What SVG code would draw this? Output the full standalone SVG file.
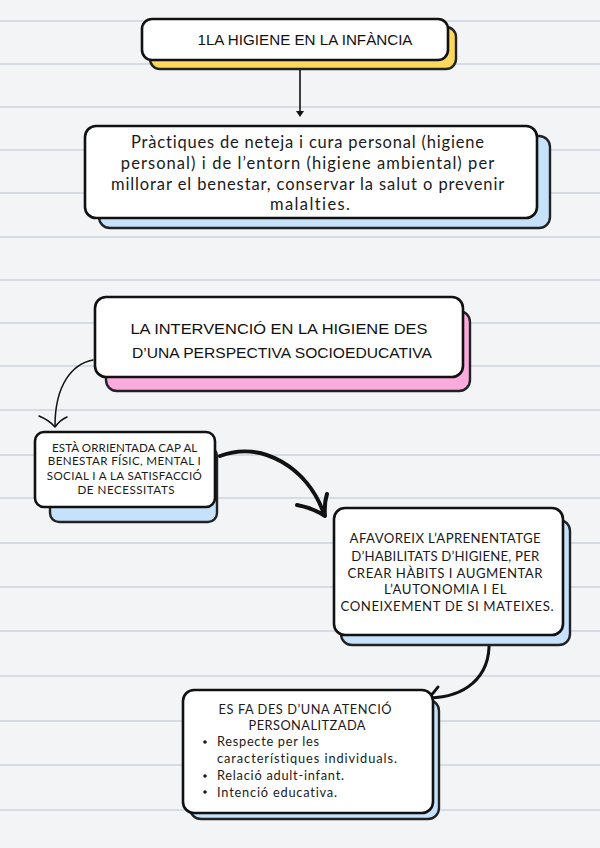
<svg xmlns="http://www.w3.org/2000/svg" width="600" height="848" viewBox="0 0 600 848">
<style>
.bg{fill:#f2f4f6}
.rule{stroke:#cbd5e1;stroke-width:1.5}
.card{fill:#ffffff;stroke:#111;stroke-width:2.6}
.sh{stroke:#222;stroke-width:2.4}
.yel{fill:#fdd85d}
.blu{fill:#c6e1fa}
.pnk{fill:#fbaadd}
.hand{font-family:"Liberation Sans",Arial,sans-serif;fill:#111;text-anchor:middle}
.body{font-family:Lato,"Noto Sans",sans-serif;fill:#1a1a1a;text-anchor:middle;font-variant-ligatures:none}
.lst{font-family:Lato,"Noto Sans",sans-serif;fill:#1a1a1a;font-variant-ligatures:none}
.conn{fill:none;stroke:#111;stroke-linecap:round;stroke-linejoin:round}
</style>
<rect class="bg" x="0" y="0" width="600" height="848"/>
<g id="rules">
<line class="rule" x1="0" y1="21" x2="600" y2="21"/>
<line class="rule" x1="0" y1="64" x2="600" y2="64"/>
<line class="rule" x1="0" y1="107" x2="600" y2="107"/>
<line class="rule" x1="0" y1="150" x2="600" y2="150"/>
<line class="rule" x1="0" y1="193" x2="600" y2="193"/>
<line class="rule" x1="0" y1="237" x2="600" y2="237"/>
<line class="rule" x1="0" y1="280" x2="600" y2="280"/>
<line class="rule" x1="0" y1="323" x2="600" y2="323"/>
<line class="rule" x1="0" y1="366" x2="600" y2="366"/>
<line class="rule" x1="0" y1="410" x2="600" y2="410"/>
<line class="rule" x1="0" y1="455" x2="600" y2="455"/>
<line class="rule" x1="0" y1="498" x2="600" y2="498"/>
<line class="rule" x1="0" y1="543" x2="600" y2="543"/>
<line class="rule" x1="0" y1="587" x2="600" y2="587"/>
<line class="rule" x1="0" y1="631" x2="600" y2="631"/>
<line class="rule" x1="0" y1="676" x2="600" y2="676"/>
<line class="rule" x1="0" y1="721" x2="600" y2="721"/>
<line class="rule" x1="0" y1="765" x2="600" y2="765"/>
<line class="rule" x1="0" y1="810" x2="600" y2="810"/>
</g>

<g id="connectors">
<path class="conn" d="M300,69 L300,114" stroke-width="1.6"/>
<path d="M296,111 L304,111 L300,117 Z" fill="#111"/>
<path class="conn" d="M93,360 C72,364 55,385 55,426" stroke-width="1.5"/>
<path class="conn" d="M39,416 Q49,420 55,427 Q60,420 67,417" stroke-width="1.5"/>
<path class="conn" d="M220,456 C262,440 308,468 324,514" stroke-width="4"/>
<path class="conn" d="M297,505 Q313,508 325,516 Q324,503 327,494" stroke-width="4"/>
<path class="conn" d="M489,640 C491,680 462,697 430,698" stroke-width="3"/>
<path class="conn" d="M438,687 Q433,694 428,698 Q434,701 438,708" stroke-width="3"/>
</g>

<g id="n1">
<rect class="sh yel" x="150" y="27" width="306" height="42" rx="10"/>
<rect class="card" x="142" y="19" width="306" height="41" rx="10"/>
<text class="hand" x="305" y="45" font-size="15" textLength="215" lengthAdjust="spacingAndGlyphs">1LA HIGIENE EN LA INFÀNCIA</text>
</g>

<g id="n2">
<rect class="sh blu" x="99" y="136" width="451" height="92" rx="11"/>
<rect class="card" x="85" y="126" width="452" height="92" rx="11"/>
<text class="body" font-size="16.5">
<tspan x="310" y="148" textLength="353">Pràctiques de neteja i cura personal (higiene</tspan>
<tspan x="310" y="169" textLength="373">personal) i de l’entorn (higiene ambiental) per</tspan>
<tspan x="310" y="190" textLength="393">millorar el benestar, conservar la salut o prevenir</tspan>
<tspan x="310" y="210" textLength="80">malalties.</tspan>
</text>
</g>

<g id="n3">
<rect class="sh pnk" x="106" y="311" width="364" height="80" rx="11"/>
<rect class="card" x="95" y="297" width="368" height="80" rx="11"/>
<text class="hand" font-size="14.5">
<tspan x="281" y="334" textLength="297" lengthAdjust="spacingAndGlyphs">LA INTERVENCIÓ EN LA HIGIENE DES</tspan>
<tspan x="282" y="358" textLength="300" lengthAdjust="spacingAndGlyphs">D’UNA PERSPECTIVA SOCIOEDUCATIVA</tspan>
</text>
</g>

<g id="n4">
<rect class="sh blu" x="50" y="447" width="167" height="75" rx="9"/>
<rect class="card" x="35" y="432" width="180" height="75" rx="9"/>
<text class="body" font-size="11.6">
<tspan x="126" y="452" textLength="145">ESTÀ ORRIENTADA CAP AL</tspan>
<tspan x="126" y="465" textLength="153">BENESTAR FÍSIC, MENTAL I</tspan>
<tspan x="126" y="480" textLength="155">SOCIAL I A LA SATISFACCIÓ</tspan>
<tspan x="126" y="494" textLength="97">DE NECESSITATS</tspan>
</text>
</g>

<g id="n5">
<rect class="sh blu" x="341" y="520" width="229" height="125" rx="11"/>
<rect class="card" x="334" y="508" width="229" height="127" rx="11"/>
<text class="body" font-size="13.2">
<tspan x="447" y="543" textLength="191">AFAVOREIX L’APRENENTATGE</tspan>
<tspan x="447" y="561" textLength="188">D’HABILITATS D’HIGIENE, PER</tspan>
<tspan x="447" y="578" textLength="195">CREAR HÀBITS I AUGMENTAR</tspan>
<tspan x="447" y="594" textLength="122">L’AUTONOMIA I EL</tspan>
<tspan x="447" y="611" textLength="213">CONEIXEMENT DE SI MATEIXES.</tspan>
</text>
</g>

<g id="n6">
<rect class="sh blu" x="190" y="700" width="249" height="119" rx="11"/>
<rect class="card" x="183" y="690" width="250" height="123" rx="11"/>
<text class="body" font-size="12.8">
<tspan x="307" y="714" textLength="173">ES FA DES D’UNA ATENCIÓ</tspan>
<tspan x="307" y="730" textLength="117">PERSONALITZADA</tspan>
</text>
<circle cx="205" cy="742" r="1.8" fill="#1a1a1a"/>
<circle cx="205" cy="776" r="1.8" fill="#1a1a1a"/>
<circle cx="205" cy="792" r="1.8" fill="#1a1a1a"/>
<text class="lst" font-size="12.8">
<tspan x="217" y="746" textLength="102">Respecte per les</tspan>
<tspan x="217" y="763" textLength="180">característiques individuals.</tspan>
<tspan x="217" y="780" textLength="127">Relació adult-infant.</tspan>
<tspan x="217" y="797" textLength="120">Intenció educativa.</tspan>
</text>
</g>
</svg>
